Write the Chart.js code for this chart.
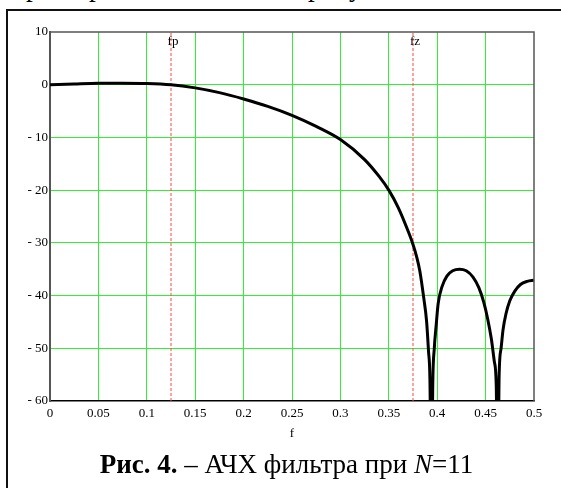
<!DOCTYPE html>
<html>
<head>
<meta charset="utf-8">
<script src="https://cdn.jsdelivr.net/npm/chart.js@4"></script>
<style>
  html, body { margin: 0; padding: 0; background: #fff; }
  #wrap { position: relative; width: 561px; height: 488px; overflow: hidden; font-family: "Liberation Serif", "Times New Roman", serif; }
  #frame { position: absolute; left: 6px; top: 9px; width: 700px; height: 700px; border-left: 2px solid #111; border-top: 2px solid #111; }
  #cap { position: absolute; left: 0; width: 573px; top: 449px; text-align: center; font-size: 27px; color: #000; white-space: nowrap; }
  #above { position: absolute; left: 0; top: -26px; font-size: 27px; line-height: 27px; color: #000; }
  #above span { position: absolute; top: 0; }
  canvas { position: absolute; left: 0; top: 0; }
</style>
</head>
<body>
<div id="wrap">
  <div id="above"><span style="left:26px">р</span><span style="left:89px">р</span><span style="left:308px">р</span><span style="left:349px">у</span></div>
  <div id="frame"></div>
  <canvas id="c" width="561" height="488"></canvas>
  <div id="cap"><b>Рис. 4.</b> – АЧХ фильтра при <i>N</i>=11</div>
</div>
<script>
var freq = [0, 0.025, 0.05, 0.075, 0.1, 0.125, 0.15, 0.175, 0.2, 0.225, 0.25, 0.275, 0.3, 0.325, 0.34, 0.35, 0.36, 0.37,
  0.375, 0.379, 0.382, 0.386, 0.389, 0.391, 0.3925, 0.394, 0.3955, 0.397, 0.399, 0.401, 0.405, 0.41, 0.416, 0.423,
  0.43, 0.437, 0.443, 0.448, 0.452, 0.456, 0.459, 0.461, 0.4625, 0.464, 0.466, 0.468, 0.471, 0.475, 0.48, 0.486,
  0.493, 0.5];
var gainDb = [0, 0.15, 0.28, 0.3, 0.25, 0, -0.6, -1.5, -2.7, -4.1, -5.8, -7.9, -10.4, -14.2, -17.4, -20, -23.4, -27.8,
  -30.3, -32.8, -35.3, -40.3, -44.8, -50.5, -56, -80, -56, -50, -45.5, -41.5, -38.3, -36.3, -35.3, -35,
  -35.3, -36.5, -38.5, -41.2, -44.3, -48.3, -52.5, -57, -80, -55, -50, -46.5, -43.5, -41, -39.2, -37.9,
  -37.3, -37.1];
var markerF = [0.125, 0.375];
var markerNames = ["fp", "fz"];
var xMin = 0, xMax = 0.5, xStep = 0.05;
var yMin = -60, yMax = 10, yStep = 10;
var xTitle = "f";

(function () {
  var green = "#33ee33",
    red = "#ff4444",
    tickFont = { family: "'Liberation Serif', 'Times New Roman', serif", size: 13 };

  function near(a, b) { return Math.abs(a - b) < 1e-6; }

  var datasets = [{
    data: freq.map(function (f, i) { return { x: f, y: gainDb[i] }; }),
    borderColor: "#000", borderWidth: 3, pointRadius: 0,
    cubicInterpolationMode: "monotone", clip: 0
  }];
  markerF.forEach(function (f) {
    datasets.push({
      data: [{ x: f, y: yMin }, { x: f, y: yMax }],
      borderColor: red, borderWidth: 1, borderDash: [3, 2], pointRadius: 0, clip: 0
    });
  });

  var labels = {
    id: "labels",
    afterDraw: function (chart) {
      var ctx = chart.ctx, a = chart.chartArea, xs = chart.scales.x;
      ctx.save();
      ctx.strokeStyle = "#555";
      ctx.lineWidth = 1.5;
      ctx.beginPath();
      ctx.moveTo(a.left, a.top);
      ctx.lineTo(a.right, a.top);
      ctx.lineTo(a.right, a.bottom);
      ctx.stroke();
      ctx.font = "13px 'Liberation Serif', serif";
      ctx.fillStyle = "#000";
      ctx.textAlign = "center";
      ctx.textBaseline = "middle";
      markerF.forEach(function (f, i) {
        ctx.fillText(markerNames[i], xs.getPixelForValue(f) + 2, a.top + 10);
      });
      ctx.fillText(xTitle, (a.left + a.right) / 2, a.bottom + 33);
      ctx.restore();
    }
  };

  new Chart(document.getElementById("c"), {
    type: "line",
    data: { datasets: datasets },
    plugins: [labels],
    options: {
      responsive: false,
      animation: false,
      devicePixelRatio: 1,
      layout: { padding: { left: 5, top: 32, right: 27, bottom: 0 } },
      plugins: { legend: { display: false }, tooltip: { enabled: false } },
      scales: {
        x: {
          type: "linear", min: xMin, max: xMax,
          afterFit: function (s) { s.height = 87; },
          border: { color: "#000", width: 1.5 },
          grid: {
            drawTicks: false, tickLength: 0,
            color: function (c) { return c.tick && (near(c.tick.value, xMin) || near(c.tick.value, xMax)) ? "rgba(0,0,0,0)" : green; }
          },
          ticks: {
            stepSize: xStep, padding: 5, color: "#000", font: tickFont, maxRotation: 0, autoSkip: false,
            callback: function (v) { return String(Math.round(v * 100) / 100); }
          }
        },
        y: {
          type: "linear", min: yMin, max: yMax,
          afterFit: function (s) { s.width = 45; },
          border: { color: "#555", width: 2 },
          grid: {
            drawTicks: false, tickLength: 0,
            color: function (c) { return c.tick && (c.tick.value === yMin || c.tick.value === yMax) ? "rgba(0,0,0,0)" : green; }
          },
          ticks: {
            stepSize: yStep, padding: 2, color: "#000", font: tickFont,
            callback: function (v) { return v < 0 ? "- " + Math.abs(v) : String(v); }
          }
        }
      }
    }
  });
})();
</script>
</body>
</html>
